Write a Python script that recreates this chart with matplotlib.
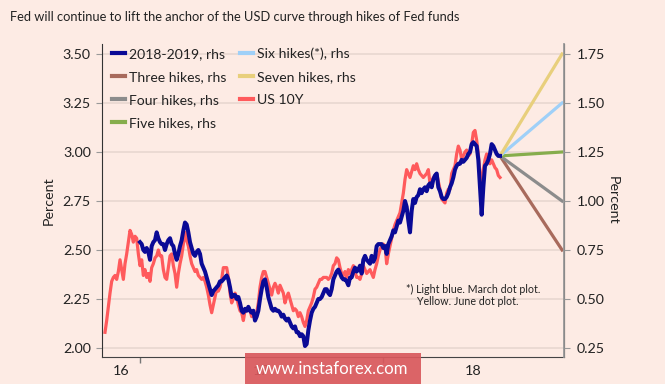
import numpy as np
import matplotlib
matplotlib.use("Agg")
import matplotlib.pyplot as plt
from matplotlib.patches import Rectangle
from matplotlib.lines import Line2D

plt.rcParams['font.family'] = ['Lato', 'DejaVu Sans']

title = "Fed will continue to lift the anchor of the USD curve through hikes of Fed funds"

# US 10Y yield (lhs), roughly every 2.5 days from early Nov 2016 to end of June 2018
us10y = [
    2.08, 2.14, 2.21, 2.28, 2.34, 2.36, 2.37, 2.35, 2.39, 2.45,
    2.40, 2.35, 2.43, 2.48, 2.54, 2.60, 2.58, 2.54, 2.57, 2.56,
    2.48, 2.42, 2.45, 2.37, 2.40, 2.36, 2.38, 2.34, 2.41, 2.43,
    2.46, 2.47, 2.50, 2.47, 2.47, 2.40, 2.36, 2.35, 2.41, 2.47,
    2.48, 2.42, 2.38, 2.31, 2.38, 2.43, 2.47, 2.53, 2.59, 2.55,
    2.52, 2.47, 2.43, 2.41, 2.39, 2.40, 2.37, 2.36, 2.35, 2.36,
    2.34, 2.31, 2.27, 2.22, 2.18, 2.22, 2.26, 2.30, 2.29, 2.31,
    2.35, 2.41,
    2.41, 2.41, 2.36, 2.28, 2.23, 2.25, 2.28, 2.26, 2.22, 2.19,
    2.18, 2.14, 2.19, 2.19, 2.20, 2.19, 2.16, 2.18, 2.16, 2.18,
    2.23, 2.31, 2.36, 2.39, 2.39, 2.36, 2.33, 2.30, 2.27, 2.31,
    2.33, 2.31, 2.28, 2.32, 2.30, 2.28, 2.23, 2.26, 2.28, 2.25,
    2.22, 2.19, 2.20, 2.19, 2.16, 2.18, 2.16, 2.13, 2.11, 2.14,
    2.19, 2.21, 2.23, 2.26, 2.30, 2.31, 2.33, 2.35, 2.35, 2.36,
    2.36, 2.36, 2.35, 2.36, 2.38, 2.42, 2.43, 2.46, 2.45, 2.41,
    2.38, 2.37,
    2.39, 2.36, 2.40, 2.38, 2.40, 2.42, 2.39, 2.36, 2.36, 2.35,
    2.38, 2.42, 2.40, 2.38, 2.39, 2.40, 2.38, 2.36, 2.40, 2.43,
    2.47, 2.50, 2.52, 2.53, 2.52, 2.43, 2.48, 2.52, 2.56, 2.60,
    2.63, 2.65, 2.67, 2.69, 2.74, 2.79, 2.86, 2.91, 2.89, 2.87,
    2.90, 2.93, 2.91, 2.94, 2.91, 2.89, 2.88, 2.87, 2.88, 2.89,
    2.91, 2.84, 2.85, 2.87, 2.88, 2.89, 2.85, 2.81, 2.76, 2.75,
    2.74, 2.79, 2.81, 2.81, 2.89, 2.91, 2.93, 2.99, 3.03, 3.01,
    2.96, 2.98, 3.00, 3.01, 2.98, 2.99, 3.04, 3.10, 3.11, 3.06,
    2.99, 2.89, 2.82, 2.91, 2.96, 2.99, 2.98, 2.94, 2.96, 2.94,
    2.92, 2.91, 2.88, 2.87,
]
us10y_start, us10y_end = 2016.856, 2018.4815

# 2018-2019 forward (rhs), from start of 2017 to end of June 2018
fwd = [
    0.79, 0.78, 0.75, 0.74, 0.76, 0.74, 0.70, 0.77, 0.79, 0.80,
    0.84, 0.81, 0.79, 0.78, 0.78, 0.75, 0.78, 0.80, 0.81, 0.78,
    0.77, 0.73, 0.70, 0.73, 0.77, 0.80, 0.85, 0.89, 0.88, 0.84,
    0.79, 0.76, 0.73, 0.72, 0.74, 0.75, 0.73, 0.68, 0.66, 0.64,
    0.61, 0.58, 0.55, 0.52, 0.54, 0.55, 0.56, 0.57, 0.59, 0.59,
    0.60,
    0.61, 0.62, 0.60, 0.56, 0.51, 0.52, 0.52, 0.50, 0.51, 0.48,
    0.44, 0.43, 0.45, 0.44, 0.46, 0.44, 0.43, 0.44, 0.39, 0.41,
    0.44, 0.50, 0.55, 0.59, 0.60, 0.56, 0.51, 0.48, 0.45, 0.44,
    0.45, 0.44, 0.44, 0.43, 0.41, 0.42, 0.40, 0.39, 0.40, 0.38,
    0.36, 0.35, 0.36, 0.33, 0.33, 0.31, 0.32, 0.31, 0.26, 0.27,
    0.34, 0.39, 0.43, 0.45, 0.46, 0.48, 0.50, 0.50, 0.51, 0.53,
    0.55, 0.55, 0.53, 0.52, 0.55, 0.60, 0.62, 0.64, 0.65, 0.63,
    0.61, 0.60,
    0.60, 0.59, 0.57, 0.61, 0.61, 0.64, 0.66, 0.64, 0.65, 0.67,
    0.63, 0.70, 0.72, 0.70, 0.69, 0.68, 0.72, 0.69, 0.71, 0.77,
    0.78, 0.78, 0.78, 0.76, 0.77, 0.73, 0.78, 0.80, 0.82, 0.85,
    0.84, 0.87, 0.90, 0.89, 0.92, 0.95, 1.00, 0.97, 0.90, 0.84,
    0.95, 1.01, 0.99, 1.02, 1.03, 1.06, 1.04, 1.06, 1.07, 1.05,
    1.08, 1.09, 1.07, 1.11, 1.13, 1.14, 1.07, 1.05, 1.02, 1.01,
    1.01, 1.02, 1.04, 1.07, 1.09, 1.12, 1.16, 1.18, 1.19, 1.19,
    1.21, 1.20, 1.21, 1.22, 1.24, 1.25, 1.29, 1.30, 1.29, 1.28,
    1.21, 1.07, 0.93, 1.07, 1.18, 1.19, 1.21, 1.24, 1.29, 1.28,
    1.26, 1.24, 1.23, 1.23,
]
fwd_start, fwd_end = 2017.0, 2018.4815

# Hike scenarios (rhs): from last forward value to end of 2018
scenario_names = ["Three hikes, rhs", "Four hikes, rhs", "Five hikes, rhs",
                  "Six hikes(*), rhs", "Seven hikes, rhs"]
scenario_end = [0.75, 1.00, 1.25, 1.50, 1.75]
scenario_t = [2018.4815, 2018.737]
scenario_colors = ["#a86a5c", "#8c8c8c", "#86ad4c", "#9fd0f8", "#e8cf7c"]

left_ticks = [2.00, 2.25, 2.50, 2.75, 3.00, 3.25, 3.50]
right_ticks = [0.25, 0.50, 0.75, 1.00, 1.25, 1.50, 1.75]
year_ticks = [2017.0, 2018.0]
year_labels = ["16", "17", "18"]
year_label_pos = [2016.922, 2017.5, 2018.372]

bg = "#fdebe4"
txt = "#222222"
fig = plt.figure(figsize=(6.65, 3.84), dpi=100, facecolor=bg)
renderer = fig.canvas.get_renderer()


def fit_size(s, width_px, base=10.0):
    t = fig.text(0, 0, s, fontsize=base)
    w = t.get_window_extent(renderer).width
    t.remove()
    return base * width_px / w


ax = fig.add_axes([102/665, 1-357/384, (564-102)/665, (357-44)/384])
ax.set_facecolor(bg)
ax2 = ax.twinx()

xlim = (2016.8436, 2018.7449)
ylim = (1.954, 3.551)
shift = 1.75
ax.set_xlim(*xlim)
ax.set_ylim(*ylim)
ax2.set_ylim(ylim[0] - shift, ylim[1] - shift)

for y in left_ticks:
    ax.axhline(y, color="#ead9d2", lw=1.3, zorder=0)

red = "#ff5a5c"
navy = "#0a0a96"
t_red = np.linspace(us10y_start, us10y_end, len(us10y))
t_fwd = np.linspace(fwd_start, fwd_end, len(fwd))
ax.plot(t_red, us10y, color=red, lw=2.3, zorder=2, solid_joinstyle="round")

fan_start = fwd[-1]
for name, end, col in zip(scenario_names, scenario_end, scenario_colors):
    ax2.plot(scenario_t, [fan_start, end], color=col, lw=2.3, zorder=2)
ax2.plot(t_fwd, fwd, color=navy, lw=2.9, zorder=3, solid_joinstyle="round")

tick_fs = fit_size("3.50", 28)
ax.set_yticks(left_ticks)
ax.set_yticklabels([f"{v:.2f}" for v in left_ticks])
ax2.set_yticks(right_ticks)
ax2.set_yticklabels([f"{v:.2f}" for v in right_ticks])
ax.set_xticks(year_ticks)
ax.set_xticklabels(["", ""])
ax.set_xticks(year_label_pos, minor=True)
ax.set_xticklabels(year_labels, minor=True)
ax.tick_params(axis="x", which="major", length=4, color="#777777", width=1)
ax.tick_params(axis="x", which="minor", length=0, labelsize=tick_fs, labelcolor=txt, pad=6)
ax.tick_params(axis="y", length=4, color="#999999", labelsize=tick_fs, labelcolor=txt, pad=4)
ax2.tick_params(axis="y", length=4, color="#999999", labelsize=tick_fs, labelcolor=txt, pad=5)

for a in (ax, ax2):
    a.spines["top"].set_visible(False)
ax.spines["left"].set_color("#333333")
ax.spines["bottom"].set_color("#444444")
ax2.spines["left"].set_visible(False)
ax2.spines["bottom"].set_visible(False)
ax2.spines["right"].set_color("#999999")
ax2.spines["right"].set_linewidth(1.3)

ax.set_ylabel("Percent", fontsize=tick_fs, color=txt)
ax.yaxis.set_label_coords((55-102)/462, 0.5)
ax2.set_ylabel("Percent", fontsize=tick_fs, color=txt, rotation=270, va="center")
ax2.yaxis.set_label_coords((613-102)/462, 0.5)

leg_fs = fit_size("2018-2019, rhs", 96)
handles = [Line2D([], [], color=navy, lw=3)]
labels = ["2018-2019, rhs"]
for name, col in zip(scenario_names, scenario_colors):
    handles.append(Line2D([], [], color=col, lw=3))
    labels.append(name)
handles.append(Line2D([], [], color=red, lw=3))
labels.append("US 10Y")
leg = ax2.legend(handles, labels, ncol=2, loc="upper left", bbox_to_anchor=(0.0, 1.02),
                 frameon=False, fontsize=leg_fs, handlelength=0.95, handletextpad=0.25,
                 columnspacing=1.0, labelspacing=0.78, borderaxespad=0.3)
for t in leg.get_texts():
    t.set_color(txt)

note_fs = fit_size("*) Light blue. March dot plot.", 134)
ax2.text((406-102)/462, (357-284)/313, "*) Light blue. March dot plot.\n    Yellow. June dot plot.",
         transform=ax2.transAxes, fontsize=note_fs, color=txt, va="top", ha="left",
         linespacing=1.15)

title_fs = fit_size(title, 452)
fig.text(10/665, 1-17/384, title, fontsize=title_fs, color=txt, va="center", ha="left")

fig.patches.append(Rectangle((245/665, 0), (421-245)/665, (384-353)/384,
                             transform=fig.transFigure, facecolor="#d9585c",
                             alpha=0.92, edgecolor="none", zorder=10))
wm_fs = fit_size("www.instaforex.com", 153)
fig.text(332/665, 1-369/384, "www.instaforex.com", fontsize=wm_fs, color="white",
         ha="center", va="center", zorder=11)

fig.savefig("out.png", dpi=100, facecolor=bg)
